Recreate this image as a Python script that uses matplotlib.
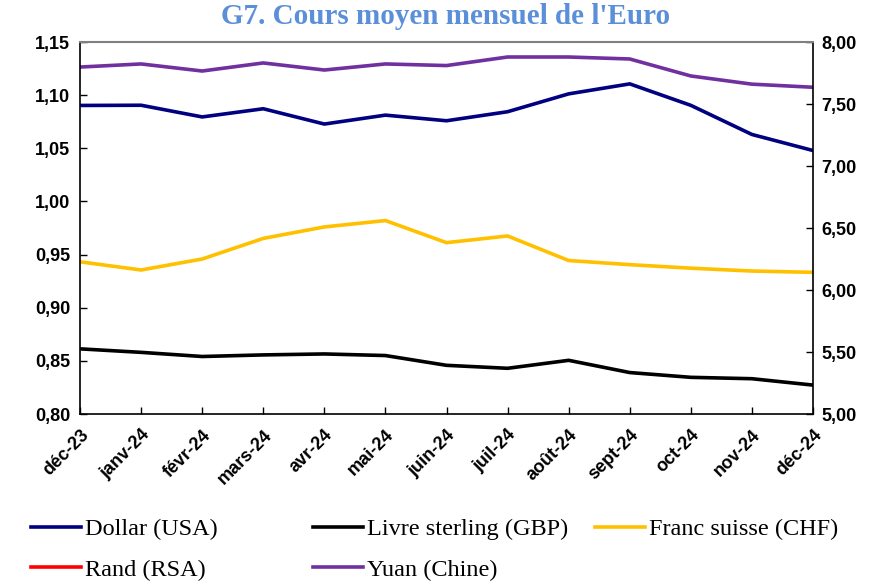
import matplotlib
matplotlib.use("Agg")
import matplotlib.pyplot as plt
from matplotlib.ticker import FuncFormatter, MultipleLocator
from matplotlib.lines import Line2D
from matplotlib.font_manager import FontProperties

months = ["déc-23", "janv-24", "févr-24", "mars-24", "avr-24", "mai-24", "juin-24",
          "juil-24", "août-24", "sept-24", "oct-24", "nov-24", "déc-24"]
usd = [1.0903, 1.0905, 1.0795, 1.0872, 1.0728, 1.0812, 1.0759, 1.0844, 1.1012, 1.1106, 1.0904, 1.0630, 1.0479]
gbp = [0.8613, 0.8580, 0.8541, 0.8556, 0.8565, 0.8550, 0.8458, 0.8430, 0.8505, 0.8390, 0.8345, 0.8332, 0.8272]
chf = [0.9432, 0.9355, 0.9458, 0.9652, 0.9760, 0.9820, 0.9612, 0.9675, 0.9444, 0.9405, 0.9372, 0.9345, 0.9333]
rand = [20.24, 20.39, 20.56, 20.50, 20.38, 20.02, 19.85, 19.73, 19.81, 19.62, 19.08, 19.22, 19.02]
cny = [7.798, 7.823, 7.766, 7.831, 7.774, 7.823, 7.810, 7.879, 7.879, 7.863, 7.726, 7.660, 7.635]

fig = plt.figure(figsize=(8.72, 5.81), dpi=100)
ax = fig.add_axes([80/872, 1-414/581, (813-80)/872, (414-42)/581])
ax2 = ax.twinx()

x = list(range(len(months)))
lw = 2.6
ax.plot(x, usd, color="#000080", lw=lw)
ax.plot(x, gbp, color="#000000", lw=lw)
ax.plot(x, chf, color="#FFC000", lw=lw)
ax2.plot(x, rand, color="#FF0000", lw=lw)
ax2.plot(x, cny, color="#7030A0", lw=lw)

ax.set_xlim(0, len(months)-1)
ax.set_ylim(0.80, 1.15)
ax2.set_ylim(5.0, 8.0)
ax.yaxis.set_major_locator(MultipleLocator(0.05))
ax2.yaxis.set_major_locator(MultipleLocator(0.5))
fmt = FuncFormatter(lambda v, p: f"{v:.2f}".replace(".", ","))
ax.yaxis.set_major_formatter(fmt)
ax2.yaxis.set_major_formatter(fmt)

tickfp = FontProperties(family="Liberation Sans", weight="bold", size=13)
ax.set_xticks(x)
ax.set_xticklabels(months, rotation=45, ha="right", rotation_mode="anchor", fontproperties=tickfp)
for lab in ax.get_yticklabels() + ax2.get_yticklabels():
    lab.set_fontproperties(tickfp)

ax.tick_params(axis="both", direction="in", length=5, width=1, pad=7)
ax.tick_params(axis="x", pad=9)
ax2.tick_params(axis="y", direction="in", length=5, width=1, pad=6)

for sp in ["left", "bottom", "right"]:
    ax2.spines[sp].set_color("#000000")
    ax2.spines[sp].set_linewidth(1.2)
ax2.spines["top"].set_color("#808080")
ax2.spines["top"].set_linewidth(1.5)
for sp in ax.spines.values():
    sp.set_visible(False)

fig.text(446/872, 1-17/581, "G7. Cours moyen mensuel de l'Euro", ha="center", va="center",
         family="Liberation Serif", weight="bold", size=21, color="#5B8FD8")

legfp = dict(family="Liberation Serif", size=17.5)
def col_legend(items, xpix):
    hs = [Line2D([], [], color=c, lw=lw) for c, _ in items]
    ls = [t for _, t in items]
    leg = fig.legend(hs, ls, loc="upper left", bbox_to_anchor=(xpix/872, 1-518/581),
                     frameon=False, prop=legfp, borderpad=0, borderaxespad=0,
                     handlelength=2.05, handletextpad=0.17, labelspacing=0.78)
    return leg

col_legend([("#000080", "Dollar (USA)"), ("#FF0000", "Rand (RSA)")], 31)
col_legend([("#000000", "Livre sterling (GBP)"), ("#7030A0", "Yuan (Chine)")], 313)
col_legend([("#FFC000", "Franc suisse (CHF)")], 595)

fig.savefig("out.png", dpi=100)
